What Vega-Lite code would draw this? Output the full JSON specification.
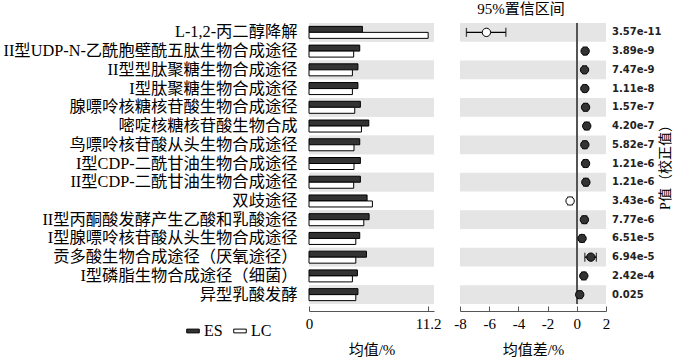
{
  "$schema": "https://vega.github.io/schema/vega-lite/v6.json",
  "padding": {"left": 3, "top": 2, "right": 5, "bottom": 2},
  "background": "white",
  "config": {
    "view": {"stroke": null},
    "font": "Liberation Serif, Noto Sans CJK SC",
    "concat": {"spacing": 12},
    "axis": {"labelColor": "black", "titleColor": "black", "titleFontWeight": "normal", "domainColor": "#555", "tickColor": "#555", "grid": false},
    "axisX": {"labelOverlap": false, "labelSeparation": 0, "labelFlush": false, "offset": 7, "tickSize": -5, "labelFontSize": 15, "titleFontSize": 15, "labelPadding": 10, "titlePadding": 11}
  },
  "datasets": {
    "paths": [
      {"order": 1, "pathway": "L-1,2-丙二醇降解", "ES": 5.02, "LC": 11.2, "diff": -6.19, "lo": -7.56, "hi": -4.86, "p": "3.57e-11", "dir": "LC"},
      {"order": 2, "pathway": "II型UDP-N-乙酰胞壁酰五肽生物合成途径", "ES": 4.77, "LC": 4.2, "diff": 0.57, "lo": 0.45, "hi": 0.69, "p": "3.89e-9", "dir": "ES"},
      {"order": 3, "pathway": "II型型肽聚糖生物合成途径", "ES": 4.6, "LC": 4.08, "diff": 0.53, "lo": 0.41, "hi": 0.65, "p": "7.47e-9", "dir": "ES"},
      {"order": 4, "pathway": "I型肽聚糖生物合成途径", "ES": 4.6, "LC": 4.08, "diff": 0.55, "lo": 0.43, "hi": 0.67, "p": "1.11e-8", "dir": "ES"},
      {"order": 5, "pathway": "腺嘌呤核糖核苷酸生物合成途径", "ES": 4.83, "LC": 4.3, "diff": 0.6, "lo": 0.46, "hi": 0.74, "p": "1.57e-7", "dir": "ES"},
      {"order": 6, "pathway": "嘧啶核糖核苷酸生物合成", "ES": 5.62, "LC": 4.93, "diff": 0.68, "lo": 0.52, "hi": 0.84, "p": "4.20e-7", "dir": "ES"},
      {"order": 7, "pathway": "鸟嘌呤核苷酸从头生物合成途径", "ES": 4.77, "LC": 4.23, "diff": 0.55, "lo": 0.41, "hi": 0.69, "p": "5.82e-7", "dir": "ES"},
      {"order": 8, "pathway": "I型CDP-二酰甘油生物合成途径", "ES": 4.83, "LC": 4.23, "diff": 0.6, "lo": 0.45, "hi": 0.75, "p": "1.21e-6", "dir": "ES"},
      {"order": 9, "pathway": "II型CDP-二酰甘油生物合成途径", "ES": 4.83, "LC": 4.2, "diff": 0.62, "lo": 0.47, "hi": 0.77, "p": "1.21e-6", "dir": "ES"},
      {"order": 10, "pathway": "双歧途径", "ES": 5.46, "LC": 5.96, "diff": -0.46, "lo": -0.62, "hi": -0.3, "p": "3.43e-6", "dir": "LC"},
      {"order": 11, "pathway": "II型丙酮酸发酵产生乙酸和乳酸途径", "ES": 5.65, "LC": 5.15, "diff": 0.52, "lo": 0.36, "hi": 0.68, "p": "7.77e-6", "dir": "ES"},
      {"order": 12, "pathway": "I型腺嘌呤核苷酸从头生物合成途径", "ES": 4.77, "LC": 4.4, "diff": 0.36, "lo": 0.22, "hi": 0.5, "p": "6.51e-5", "dir": "ES"},
      {"order": 13, "pathway": "贡多酸生物合成途径（厌氧途径）", "ES": 5.4, "LC": 4.4, "diff": 0.96, "lo": 0.55, "hi": 1.34, "p": "6.94e-5", "dir": "ES"},
      {"order": 14, "pathway": "I型磷脂生物合成途径（细菌）", "ES": 4.55, "LC": 4.08, "diff": 0.48, "lo": 0.34, "hi": 0.62, "p": "2.42e-4", "dir": "ES"},
      {"order": 15, "pathway": "异型乳酸发酵", "ES": 4.6, "LC": 4.4, "diff": 0.2, "lo": 0.06, "hi": 0.34, "p": "0.025", "dir": "ES"}
    ]
  },
  "data": {"name": "paths"},
  "hconcat": [
    {
      "width": 125,
      "height": 281,
      "transform": [{"fold": ["ES", "LC"], "as": ["group", "mean"]}],
      "encoding": {
        "y": {
          "field": "pathway", "type": "nominal",
          "sort": {"field": "order", "op": "min"},
          "scale": {"paddingInner": 0, "paddingOuter": 0},
          "axis": {"title": null, "ticks": false, "domain": false, "labelFontSize": 16.3, "labelPadding": 12, "labelLimit": 400}
        }
      },
      "layer": [
        {
          "mark": {"type": "rect"},
          "encoding": {
            "x": {"datum": 0, "type": "quantitative"},
            "x2": {"datum": 11.75},
            "fill": {"condition": {"test": "datum.order % 2 === 1", "value": "#e5e5e5"}, "value": "rgba(255,255,255,0)"}
          }
        },
        {
          "mark": {"type": "bar", "stroke": "black", "strokeWidth": 1},
          "encoding": {
            "x": {
              "field": "mean", "type": "quantitative",
              "scale": {"domain": [0, 11.75], "nice": false},
              "axis": {"values": [0, 11.2], "labelExpr": "'' + datum.value", "title": "均值/%", "labelOverlap": false}
            },
            "yOffset": {"field": "group", "scale": {"paddingInner": 0, "paddingOuter": 0.56}},
            "color": {
              "field": "group", "type": "nominal",
              "scale": {"domain": ["ES", "LC"], "range": ["#333333", "#ffffff"]},
              "legend": {"orient": "none", "legendX": -124, "legendY": 300, "direction": "horizontal", "title": null, "symbolType": "M-1.5,-0.45L1.5,-0.45L1.5,0.45L-1.5,0.45Z", "symbolSize": 70, "symbolStrokeColor": "black", "symbolStrokeWidth": 1, "labelFontSize": 16, "labelColor": "black", "columnPadding": 8, "labelOffset": 3}
            }
          }
        }
      ]
    },
    {
      "width": 146,
      "height": 281,
      "title": {"text": "95%置信区间", "fontSize": 15, "fontWeight": "normal", "offset": 5, "dx": -12, "color": "black"},
      "encoding": {
        "y": {
          "field": "pathway", "type": "nominal",
          "sort": {"field": "order", "op": "min"},
          "scale": {"paddingInner": 0, "paddingOuter": 0},
          "axis": {"orient": "right", "labels": false, "ticks": false, "domain": false, "title": "P值（校正值）", "titleAngle": 270, "titlePadding": 66, "titleFontSize": 14}
        },
        "x": {"field": "diff", "type": "quantitative", "scale": {"domain": [-8, 2], "nice": false},
          "axis": {"values": [-8, -6, -4, -2, 0, 2], "labelOverlap": false, "labelExpr": "datum.value < 0 ? '-' + abs(datum.value) : '' + datum.value", "title": "均值差/%"}}
      },
      "layer": [
        {
          "mark": {"type": "rect"},
          "encoding": {
            "x": {"datum": -8, "type": "quantitative"},
            "x2": {"datum": 2},
            "fill": {"condition": {"test": "datum.order % 2 === 1", "value": "#e5e5e5"}, "value": "rgba(255,255,255,0)"}
          }
        },
        {
          "mark": {"type": "rule", "color": "#555", "strokeWidth": 1.2},
          "encoding": {"x": {"datum": 0, "type": "quantitative"}, "y": null}
        },
        {
          "mark": {"type": "rule", "color": "black", "strokeWidth": 1.3},
          "encoding": {"x": {"field": "lo", "type": "quantitative"}, "x2": {"field": "hi"}}
        },
        {
          "mark": {"type": "tick", "orient": "vertical", "size": 9, "thickness": 1.3, "color": "black"},
          "encoding": {"x": {"field": "lo", "type": "quantitative"}}
        },
        {
          "mark": {"type": "tick", "orient": "vertical", "size": 9, "thickness": 1.3, "color": "black"},
          "encoding": {"x": {"field": "hi", "type": "quantitative"}}
        },
        {
          "mark": {"type": "point", "filled": true, "size": 70, "stroke": "black", "strokeWidth": 1, "opacity": 1},
          "encoding": {
            "fill": {"field": "dir", "type": "nominal", "scale": {"domain": ["ES", "LC"], "range": ["#333333", "#ffffff"]}, "legend": null}
          }
        },
        {
          "mark": {"type": "text", "align": "left", "dx": 6, "font": "DejaVu Sans", "fontSize": 10, "fontWeight": "bold", "color": "#222"},
          "encoding": {"x": {"datum": 2, "type": "quantitative"}, "text": {"field": "p"}}
        }
      ]
    }
  ]
}
